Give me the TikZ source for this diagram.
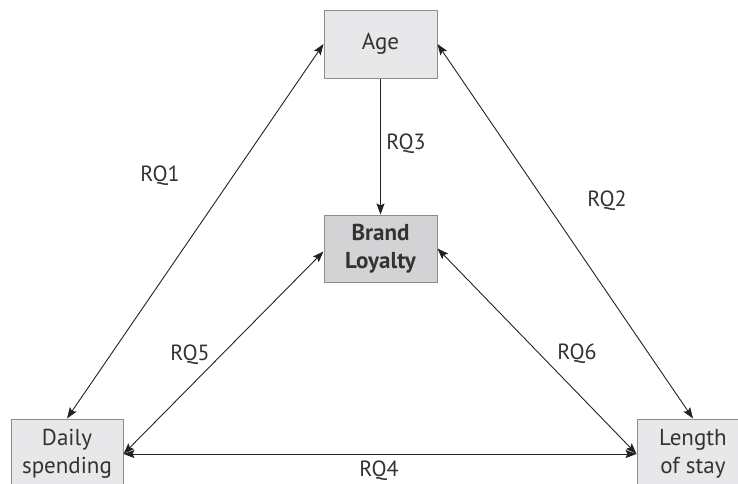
\documentclass[tikz,border=0pt]{standalone}
\usepackage{fontspec}
\setmainfont{PT Sans}
\usetikzlibrary{arrows.meta}
\definecolor{boxfill}{HTML}{E8E8EA}
\definecolor{boxfilldark}{HTML}{D3D3D5}
\definecolor{boxline}{HTML}{8C8C8C}
\definecolor{ink}{HTML}{222222}
\definecolor{txt}{HTML}{333333}
\begin{document}
\begin{tikzpicture}[x=1pt,y=-1pt,
  box/.style={draw=boxline, line width=1pt, fill=boxfill, text=txt, align=center,
    font=\fontsize{23}{27.5}\selectfont, inner sep=0pt},
  conn/.style={draw=ink, line width=0.9pt, {Stealth[length=11pt,width=8pt,inset=2pt]}-{Stealth[length=11pt,width=8pt,inset=2pt]}},
  oneway/.style={draw=ink, line width=0.9pt, -{Stealth[length=11pt,width=8pt,inset=2pt]}},
  lab/.style={text=txt, font=\fontsize{22}{26}\selectfont, inner sep=0pt}]
\useasboundingbox (0,0) rectangle (738,483);
\begin{scope}
\clip (0,0) rectangle (738,483);
\node[box, minimum width=113pt, minimum height=68pt] (age) at (380.5,44) {Age};
\node[box, fill=boxfilldark, minimum width=113pt, minimum height=67pt,
  font=\fontsize{23}{27.5}\selectfont\bfseries] (brand) at (380.5,248.5) {Brand\\Loyalty};
\node[box, minimum width=112pt, minimum height=70pt] (daily) at (67,454) {Daily\\spending};
\node[box, minimum width=112pt, minimum height=70pt] (length) at (693,454) {Length\\of stay};
\end{scope}
\draw[conn] (age.west) -- (daily.north);
\draw[conn] (age.east) -- (length.north);
\draw[oneway] (age.south) -- (brand.north);
\draw[conn] (daily.east) -- ([yshift=-3pt]brand.west);
\draw[conn] (length.west) -- (brand.east);
\draw[conn] (daily.east) -- (length.west);
\node[lab] (rq1) at (160,176) {RQ1};
\node[lab] (rq2) at (607,201) {RQ2};
\node[lab] (rq3) at (406,144) {RQ3};
\node[lab] (rq5) at (190,355) {RQ5};
\node[lab] (rq6) at (577,354) {RQ6};
\node[lab] (rq4) at (379,471) {RQ4};
\end{tikzpicture}
\end{document}
